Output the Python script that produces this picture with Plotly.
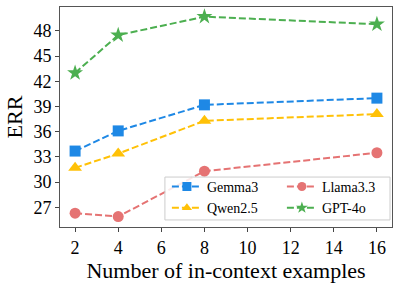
import plotly.graph_objects as go

x_vals = [2, 4, 8, 16]
gemma3 = [33.7, 36.1, 39.2, 40.0]
qwen25 = [31.7, 33.4, 37.3, 38.1]
llama33 = [26.3, 25.9, 31.3, 33.5]
gpt4o = [43.0, 47.5, 49.7, 48.8]
x_ticks = [2, 4, 6, 8, 10, 12, 14, 16]
y_ticks = [27, 30, 33, 36, 39, 42, 45, 48]

series = [
    ("Gemma3", gemma3, "#1E88E5", "square", 11),
    ("Llama3.3", llama33, "#E57373", "circle", 11),
    ("Qwen2.5", qwen25, "#FFC107", "triangle-up", 12),
    ("GPT-4o", gpt4o, "#4CAF50", "star", 12),
]
DASH = "7px,3px"

fig = go.Figure()
for name, vals, color, sym, size in series:
    fig.add_trace(go.Scatter(
        x=x_vals, y=vals, name=name, mode="lines+markers", showlegend=False,
        line=dict(color=color, width=2, dash=DASH),
        marker=dict(symbol=sym, size=size, color=color),
    ))
for name, vals, color, sym, size in series:
    fig.add_trace(go.Scatter(
        x=[None], y=[None], name=name, mode="lines+markers",
        line=dict(color=color, width=2, dash=DASH),
        marker=dict(symbol=sym, size=9, color=color),
    ))

# legend frame
fig.add_shape(type="rect", xref="x domain", yref="y domain",
              x0=0.316, x1=0.994, y0=0.032, y1=0.227, layer="above",
              line=dict(color="#cccccc", width=1),
              fillcolor="rgba(255,255,255,0.85)")

font = "Liberation Serif"
fig.update_layout(
    width=399, height=285,
    margin=dict(l=60, r=7, t=7, b=58, autoexpand=False),
    plot_bgcolor="white", paper_bgcolor="white",
    font=dict(family=font, size=18, color="black"),
    showlegend=True,
    legend=dict(
        orientation="h", x=0.322, y=0.014, xanchor="left", yanchor="bottom",
        bgcolor="rgba(0,0,0,0)", borderwidth=0,
        font=dict(family=font, size=14), entrywidth=70, entrywidthmode="pixels",
        traceorder="normal", tracegroupgap=0, itemsizing="trace",
    ),
)
fig.update_xaxes(
    range=[1.3, 16.7], tickvals=x_ticks, ticks="outside", ticklen=4,
    showline=True, linecolor="#555555", linewidth=1, mirror=True,
    showgrid=False, zeroline=False, automargin=False,
    title=dict(text="Number of in-context examples", standoff=4),
    tickfont=dict(size=18),
)
fig.update_yaxes(
    range=[24.66, 50.85], tickvals=y_ticks, ticks="outside", ticklen=4,
    showline=True, linecolor="#555555", linewidth=1, mirror=True,
    showgrid=False, zeroline=False, automargin=False,
    title=dict(text="ERR", standoff=4),
    tickfont=dict(size=18),
)
fig.write_html("out.html", config={"displayModeBar": False},
               post_script="document.body.style.margin='0';")
